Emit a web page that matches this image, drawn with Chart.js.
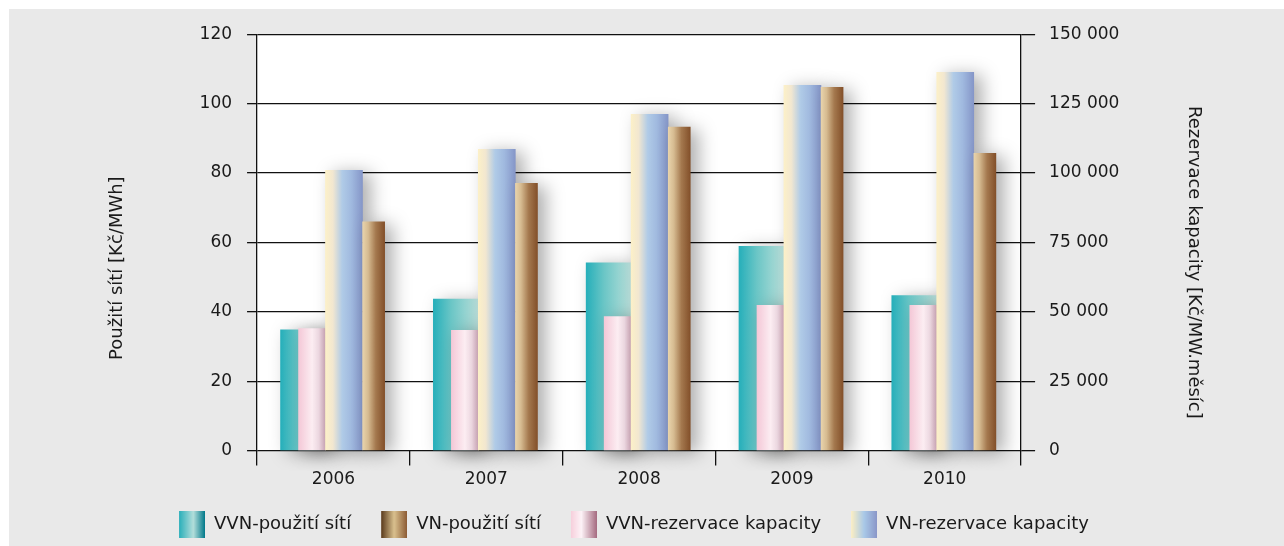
<!DOCTYPE html>
<html>
<head>
<meta charset="utf-8">
<script src="https://cdn.jsdelivr.net/npm/chart.js@4.4.0/dist/chart.umd.min.js"></script>
<style>
  html, body { margin: 0; padding: 0; background: #fff; }
  #wrap { position: absolute; left: 9px; top: 9px; width: 1275px; height: 537px; background: #e9e9e9; }
</style>
</head>
<body>
<div id="wrap"><canvas id="chart" width="1275" height="537"></canvas></div>
<script>
// values
const years = ['2006', '2007', '2008', '2009', '2010'];
const vvnPouziti = [34.8, 43.7, 54.1, 58.9, 44.7];          // Kč/MWh, left axis
const vnPouziti = [65.9, 77.0, 93.2, 104.7, 85.7];           // Kč/MWh, left axis
const vvnRezervace = [44000, 43300, 48300, 52300, 52300];    // Kč/MW.měsíc, right axis
const vnRezervace = [101000, 108500, 121100, 131600, 136300]; // Kč/MW.měsíc, right axis

const leftTicks = { min: 0, max: 120, step: 20 };
const rightTicks = { min: 0, max: 150000, step: 25000 };

const textColor = '#1a1a1a';
const lineColor = '#111';
const font = { family: "'DejaVu Sans', sans-serif", size: 17 };
const legendFont = { family: "'DejaVu Sans', sans-serif", size: 18 };
const titleFont = { family: "'DejaVu Sans', sans-serif", size: 18 };

// bar layout inside a category (offset from the year centre, width in px)
const layout = {
  teal: { off: -0.199, w: 45 },
  pink: { off: -0.140, w: 27 },
  blue: { off: 0.069, w: 37 },
  brown: { off: 0.263, w: 22 }
};

const fills = {
  teal: [[0, '#26afba'], [0.4, '#6bc6c6'], [0.85, '#a6d9d5'], [1, '#bfe4e0']],
  pink: [[0, '#f4c8d7'], [0.5, '#fcedf2'], [0.75, '#eed9e2'], [1, '#d0a9ba']],
  blue: [[0, '#fcf0c8'], [0.2, '#f2e7d0'], [0.45, '#b0cbe7'], [0.7, '#a0b9df'], [1, '#8596c8']],
  brown: [[0, '#e8d3ab'], [0.25, '#d6bb91'], [0.6, '#a4784e'], [1, '#83502a']]
};
const swatchFills = {
  teal: [[0, '#2aafba'], [0.55, '#b3dedb'], [1, '#00788a']],
  brown: [[0, '#5a3a1c'], [0.5, '#dac18f'], [1, '#8b5a34']],
  pink: [[0, '#f7cfdc'], [0.4, '#fdf3f7'], [1, '#a56b80']],
  blue: [[0, '#fcefc4'], [0.5, '#a9c9e8'], [1, '#8a96c8']]
};

function barFill(key) {
  const stops = fills[key];
  const w = layout[key].w;
  return (ctx) => {
    if (ctx.type !== 'data' || !ctx.parsed) return stops[0][1];
    const cx = ctx.chart.scales.xb.getPixelForValue(ctx.parsed.x);
    if (!isFinite(cx)) return stops[0][1];
    const g = ctx.chart.ctx.createLinearGradient(cx - w / 2, 0, cx + w / 2, 0);
    stops.forEach(([p, c]) => g.addColorStop(p, c));
    return g;
  };
}

// legend swatch 26x27, with a transparent strip on the left that adds spacing between items
const swatchGap = 9;
function swatch(key) {
  const c = document.createElement('canvas');
  c.width = 26 + swatchGap;
  c.height = 27;
  const x = c.getContext('2d');
  const g = x.createLinearGradient(swatchGap, 0, swatchGap + 26, 0);
  swatchFills[key].forEach(([p, col]) => g.addColorStop(p, col));
  x.fillStyle = g;
  x.fillRect(swatchGap, 0, 26, 27);
  return c;
}
const swatches = { teal: swatch('teal'), brown: swatch('brown'), pink: swatch('pink'), blue: swatch('blue') };
const legendKeys = ['teal', 'brown', 'pink', 'blue'];

function makeDataset(label, key, values, axis, order) {
  return {
    label,
    data: values.map((v, i) => ({ x: i + layout[key].off, y: v })),
    xAxisID: 'xb',
    yAxisID: axis,
    grouped: false,
    barThickness: layout[key].w,
    backgroundColor: barFill(key),
    borderWidth: 0,
    order,
    clip: { left: 10, top: 10, right: 40, bottom: 20 }
  };
}

const spaced = (v) => String(v).replace(/\B(?=(\d{3})+(?!\d))/g, ' ');

const plotBackground = {
  id: 'plotBackground',
  beforeDraw(chart) {
    const { ctx, chartArea: a } = chart;
    ctx.save();
    ctx.fillStyle = '#fff';
    ctx.fillRect(a.left, a.top, a.right - a.left, a.bottom - a.top);
    ctx.restore();
  }
};

const barShadow = {
  id: 'barShadow',
  beforeDatasetsDraw(chart) {
    const c = chart.ctx;
    c.save();
    c.shadowColor = 'rgba(0, 0, 0, 0.32)';
    c.shadowBlur = 18;
    c.shadowOffsetX = 8;
    c.shadowOffsetY = 3;
  },
  afterDatasetsDraw(chart) {
    chart.ctx.restore();
  }
};

new Chart(document.getElementById('chart'), {
  type: 'bar',
  data: {
    labels: years,
    datasets: [
      makeDataset('VVN-použití sítí', 'teal', vvnPouziti, 'y', 4),
      makeDataset('VN-použití sítí', 'brown', vnPouziti, 'y', 1),
      makeDataset('VVN-rezervace kapacity', 'pink', vvnRezervace, 'y2', 3),
      makeDataset('VN-rezervace kapacity', 'blue', vnRezervace, 'y2', 2)
    ]
  },
  options: {
    responsive: false,
    animation: false,
    layout: { padding: { top: 22, left: 0, right: 34, bottom: 3 } },
    plugins: {
      tooltip: { enabled: false },
      legend: {
        position: 'bottom',
        labels: {
          usePointStyle: true,
          pointStyleWidth: 26 + swatchGap,
          padding: 21,
          color: textColor,
          font: legendFont,
          sort: (a, b) => a.datasetIndex - b.datasetIndex,
          generateLabels(chart) {
            const items = Chart.defaults.plugins.legend.labels.generateLabels(chart);
            items.forEach((it) => { it.pointStyle = swatches[legendKeys[it.datasetIndex]]; });
            return items;
          }
        }
      }
    },
    scales: {
      x: {
        type: 'category',
        position: 'bottom',
        offset: true,
        grid: { offset: true, drawOnChartArea: false, tickLength: 15, color: lineColor, lineWidth: 1.3 },
        border: { display: false },
        ticks: { padding: 4, color: textColor, font }
      },
      xb: { type: 'linear', display: false, offset: false, grid: { offset: false }, min: -0.5, max: 4.5 },
      y: {
        position: 'left',
        min: leftTicks.min,
        max: leftTicks.max,
        ticks: { stepSize: leftTicks.step, padding: 15, color: textColor, font },
        grid: { color: lineColor, lineWidth: 1.3, tickLength: 10 },
        border: { color: lineColor, width: 1.3 },
        title: {
          display: true,
          // trailing spaces nudge the rotated title a little lower, as in the original
          text: 'Použití sítí [Kč/MWh]         ',
          color: textColor,
          font: titleFont,
          padding: { top: 98, bottom: 56 }
        }
      },
      y2: {
        position: 'right',
        min: rightTicks.min,
        max: rightTicks.max,
        ticks: { stepSize: rightTicks.step, padding: 14, color: textColor, font, callback: spaced },
        grid: { drawOnChartArea: false, color: lineColor, lineWidth: 1.3, tickLength: 14 },
        border: { color: lineColor, width: 1.3 },
        title: {
          display: true,
          text: '       Rezervace kapacity [Kč/MW.měsíc]',
          color: textColor,
          font: titleFont,
          padding: { top: 46, bottom: 49 }
        }
      }
    }
  },
  plugins: [plotBackground, barShadow]
});
</script>
</body>
</html>
